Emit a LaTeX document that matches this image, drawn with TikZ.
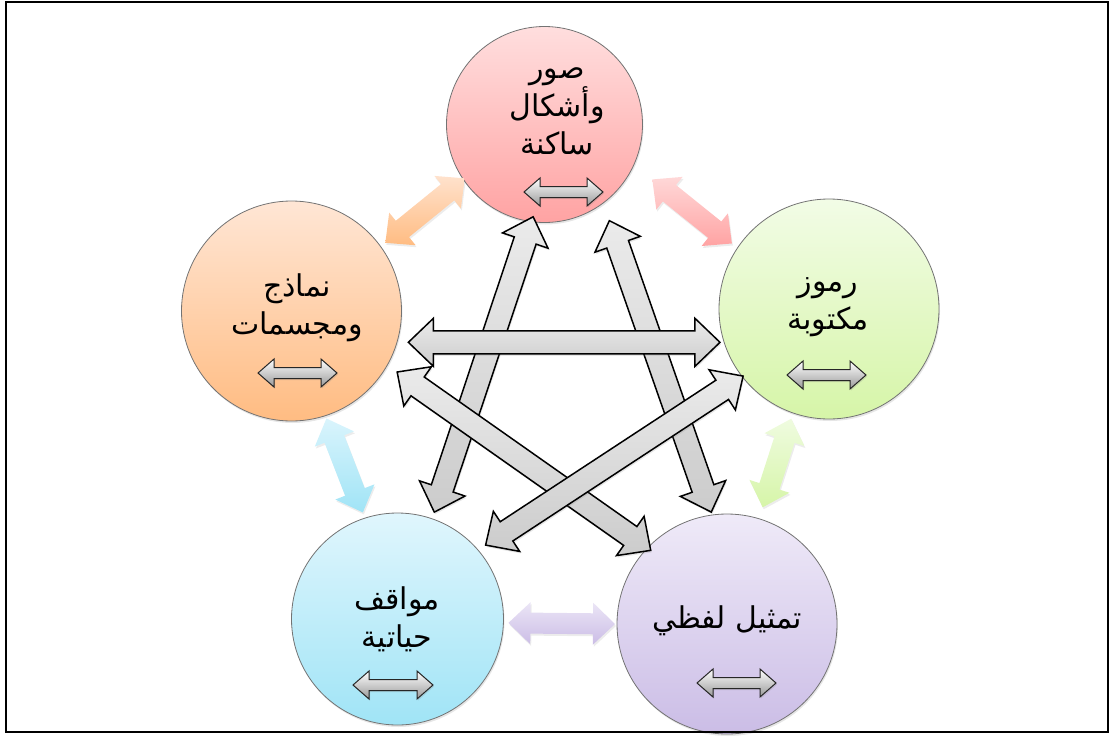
\documentclass[tikz,border=0pt]{standalone}
\usepackage{fontspec}
\usepackage{tikz}
\usetikzlibrary{calc,shadows}
\newfontfamily\arabicfont[Script=Arabic]{DejaVu Sans}
\TeXXeTstate=1
\definecolor{pinkTop}{HTML}{FFDEDE}\definecolor{pinkBot}{HTML}{FFA3A3}
\definecolor{orTop}{HTML}{FFE6D5}\definecolor{orBot}{HTML}{FFBC82}
\definecolor{grTop}{HTML}{F2FCE6}\definecolor{grBot}{HTML}{D6F5A8}
\definecolor{blTop}{HTML}{E0F6FD}\definecolor{blBot}{HTML}{A0E4F6}
\definecolor{puTop}{HTML}{EFEAF8}\definecolor{puBot}{HTML}{CBBDE6}
\newcommand\blockarrow[6]{%
 \path[#1] let \p1=($(#3)-(#2)$),\n1={veclen(\x1,\y1)},\n2={atan2(\y1,\x1)} in
  [shift={(#2)},rotate=\n2] (0pt,0pt)--(#6,#5)--(#6,#4)--(\n1*1pt-#6,#4)--(\n1*1pt-#6,#5)--(\n1*1pt,0pt)
  --(\n1*1pt-#6,-#5)--(\n1*1pt-#6,-#4)--(#6,-#4)--(#6,-#5)--cycle;}

\begin{document}
\begin{tikzpicture}[x=1pt,y=-1pt,
 ring/.style={circle,draw=black!55,line width=0.8pt,inner sep=0pt,minimum size=220pt,drop shadow={opacity=0.2,shadow xshift=1pt,shadow yshift=-2pt}},
 lbl/.style={align=center,font=\arabicfont\fontsize{30}{38}\selectfont},
 link/.style={draw=black,line width=1.5pt,top color=black!8,bottom color=black!20,drop shadow={opacity=0.2,shadow xshift=1pt,shadow yshift=-2pt}},
 side/.style={drop shadow={opacity=0.15,shadow xshift=1pt,shadow yshift=-2pt}},
 mini/.style={draw=black!85,line width=1pt,top color=white,bottom color=black!40,drop shadow={opacity=0.25,shadow xshift=1pt,shadow yshift=-1.5pt}}]
 \useasboundingbox (0,0) rectangle (1113,736);
 \node[ring,minimum size=196pt,top color=pinkTop,bottom color=pinkBot] (still) at (544.5,124.5) {};
 \node[ring,top color=grTop,bottom color=grBot] (written) at (829,309) {};
 \node[ring,top color=orTop,bottom color=orBot] (models) at (291.5,311) {};
 \node[ring,minimum size=212pt,top color=blTop,bottom color=blBot] (situations) at (397.5,619) {};
 \node[ring,top color=puTop,bottom color=puBot] (verbal) at (727,624) {};
 \blockarrow{side,top color=orTop!90!orBot,bottom color=orBot}{[shift={(36:116pt)}]models.center}{[shift={(214:96pt)}]still.center}{10.5pt}{21pt}{22pt}
 \blockarrow{side,top color=pinkTop!90!pinkBot,bottom color=pinkBot}{[shift={(333:121pt)}]still.center}{[shift={(146:117pt)}]written.center}{10.5pt}{21pt}{22pt}
 \blockarrow{side,top color=grTop!90!grBot,bottom color=grBot}{[shift={(251:116pt)}]written.center}{[shift={(73:122pt)}]verbal.center}{10.5pt}{21pt}{22pt}
 \blockarrow{side,top color=blTop!90!blBot,bottom color=blBot}{[shift={(288:113pt)}]models.center}{[shift={(108:112pt)}]situations.center}{10.5pt}{21pt}{22pt}
 \blockarrow{side,top color=puTop!90!puBot,bottom color=puBot}{[shift={(358:111pt)}]situations.center}{[shift={(180:112pt)}]verbal.center}{10.5pt}{21pt}{22pt}
 \blockarrow{link}{[shift={(263:93pt)}]still.center}{[shift={(71:113pt)}]situations.center}{11.5pt}{24pt}{25pt}
 \blockarrow{link}{[shift={(304:116pt)}]still.center}{[shift={(98:113pt)}]verbal.center}{11.5pt}{24pt}{25pt}
 \blockarrow{link}{[shift={(330:122pt)}]models.center}{[shift={(136:106pt)}]verbal.center}{11.5pt}{24pt}{25pt}
 \blockarrow{link}{[shift={(218:109pt)}]written.center}{[shift={(40:115pt)}]situations.center}{11.5pt}{24pt}{25pt}
 \blockarrow{link}{[shift={(345:121pt)}]models.center}{[shift={(197:114pt)}]written.center}{11.5pt}{24pt}{25pt}
 \blockarrow{mini}{524,192}{603,192}{5.5pt}{14pt}{16pt}
 \blockarrow{mini}{258,373}{337,373}{5.5pt}{14pt}{16pt}
 \blockarrow{mini}{787,375}{866,375}{5.5pt}{14pt}{16pt}
 \blockarrow{mini}{353,685}{433,685}{5.5pt}{14pt}{16pt}
 \blockarrow{mini}{697,683}{776,683}{5.5pt}{14pt}{16pt}
 \node[lbl] (stilltxt) at (557,111) {\beginR صور\endR\\\beginR وأشكال\endR\\\beginR ساكنة\endR};
 \node[lbl] (writtentxt) at (828,307) {\beginR رموز\endR\\\beginR مكتوبة\endR};
 \node[lbl] (modelstxt) at (297,308) {\beginR نماذج\endR\\\beginR ومجسمات\endR};
 \node[lbl] (situationstxt) at (397,619) {\beginR مواقف\endR\\\beginR حياتية\endR};
 \node[lbl] (verbaltxt) at (727,621) {\beginR تمثيل لفظي\endR};
 \draw[line width=2pt] (6,2) rectangle (1108,732);
\end{tikzpicture}
\end{document}
